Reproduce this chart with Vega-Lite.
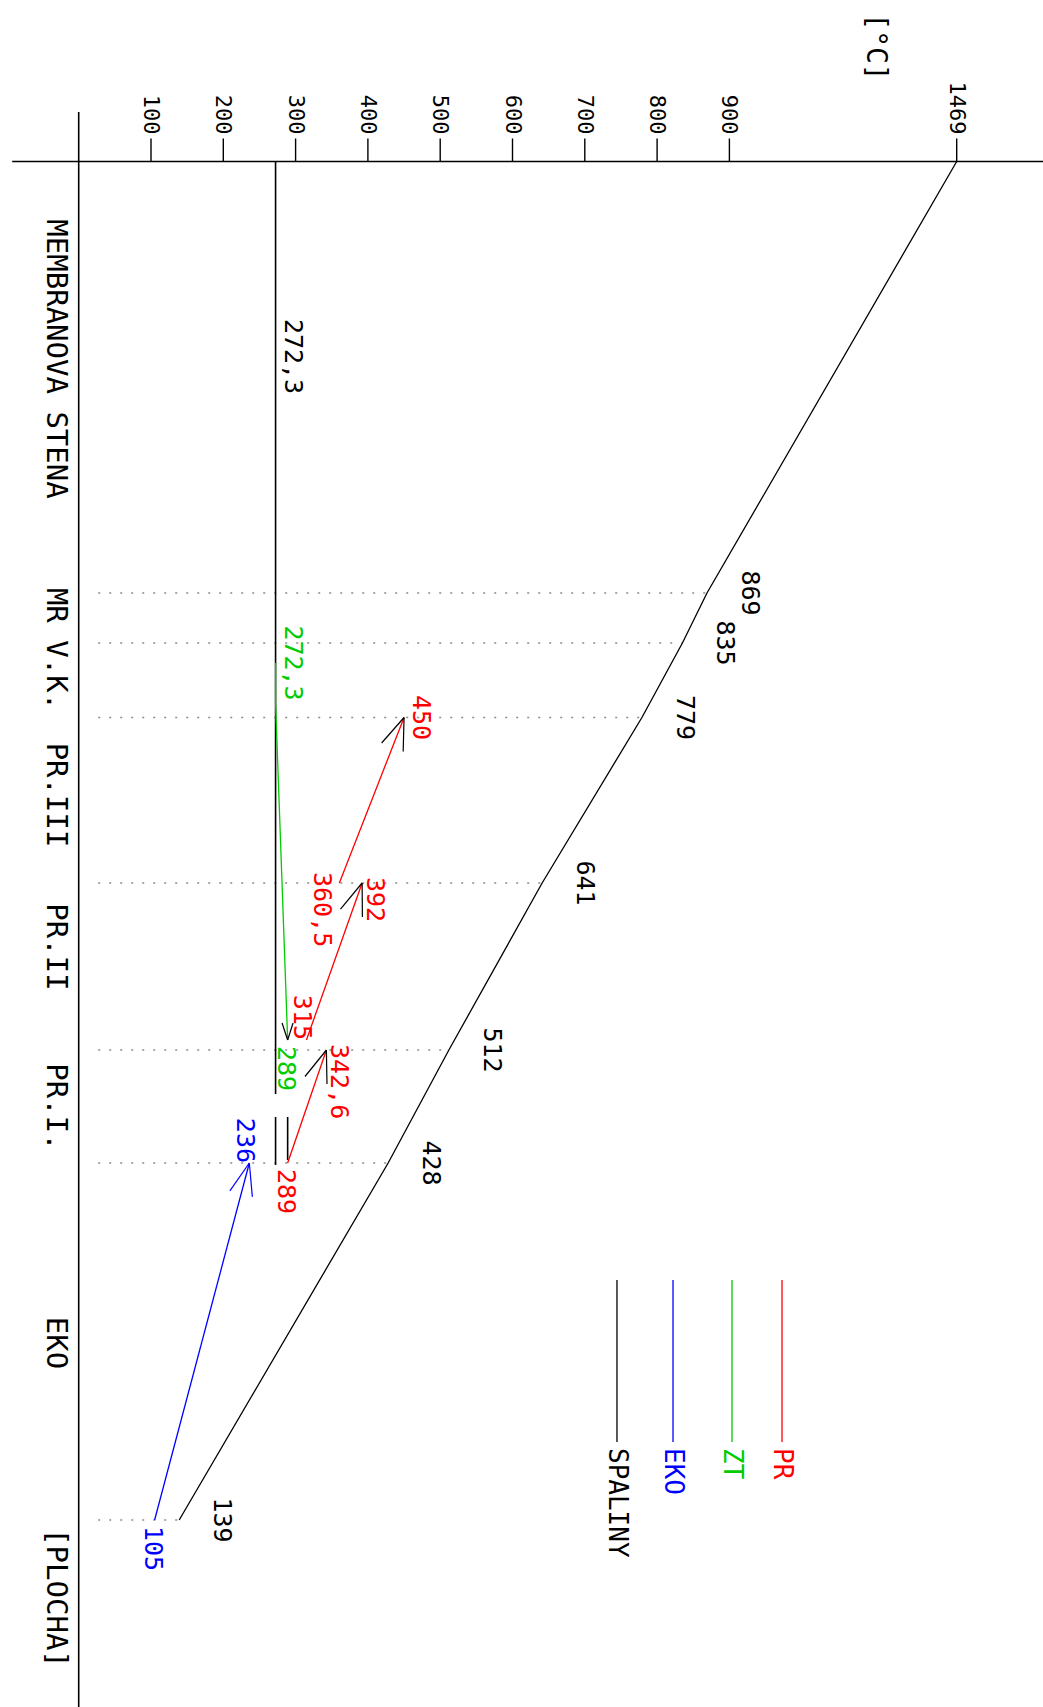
{
  "$schema": "https://vega.github.io/schema/vega-lite/v6.json",
  "width": 1043,
  "height": 1707,
  "padding": 0,
  "autosize": {"type": "none"},
  "background": "white",
  "config": {"view": {"stroke": null}, "font": "DejaVu Sans Mono"},
  "datasets": {
    "lines": [
      {"series": "SPALINY", "seg": "SP", "t": 1469, "u": 0, "label": "", "side": "none"},
      {"series": "SPALINY", "seg": "SP", "t": 869, "u": 431.5, "label": "869", "side": "spal"},
      {"series": "SPALINY", "seg": "SP", "t": 835, "u": 481.5, "label": "835", "side": "spal"},
      {"series": "SPALINY", "seg": "SP", "t": 779, "u": 556, "label": "779", "side": "spal"},
      {"series": "SPALINY", "seg": "SP", "t": 641, "u": 721.5, "label": "641", "side": "spal"},
      {"series": "SPALINY", "seg": "SP", "t": 512, "u": 888.5, "label": "512", "side": "spal"},
      {"series": "SPALINY", "seg": "SP", "t": 428, "u": 1001.5, "label": "428", "side": "spal"},
      {"series": "SPALINY", "seg": "SP", "t": 139, "u": 1358.5, "label": "139", "side": "spal"},
      {"series": "ZT", "seg": "ZT", "t": 272.3, "u": 501.5, "label": "272,3", "side": "right"},
      {"series": "ZT", "seg": "ZT", "t": 272.3, "u": 541.5, "label": "", "side": "none"},
      {"series": "ZT", "seg": "ZT", "t": 289, "u": 878.5, "label": "289", "side": "below"},
      {"series": "PR", "seg": "PR.III", "t": 360.5, "u": 721.5, "label": "360,5", "side": "leftbelow"},
      {"series": "PR", "seg": "PR.III", "t": 450, "u": 556, "label": "450", "side": "right"},
      {"series": "PR", "seg": "PR.II", "t": 315, "u": 878.5, "label": "315", "side": "above"},
      {"series": "PR", "seg": "PR.II", "t": 392, "u": 721.5, "label": "392", "side": "rightbelow"},
      {"series": "PR", "seg": "PR.I", "t": 289, "u": 1001.5, "label": "289", "side": "below"},
      {"series": "PR", "seg": "PR.I", "t": 342.6, "u": 888.5, "label": "342,6", "side": "rightbelow"},
      {"series": "EKO", "seg": "EKO", "t": 105, "u": 1358.5, "label": "105", "side": "below"},
      {"series": "EKO", "seg": "EKO", "t": 236, "u": 1001.5, "label": "236", "side": "above"}
    ],
    "sat": [
      {"t": 272.3, "u1": 0, "u2": 932.5},
      {"t": 272.3, "u1": 955.5, "u2": 1003.5},
      {"t": 289, "u1": 955.5, "u2": 998.5}
    ],
    "notes": [
      {"t": 272.3, "u": 195, "label": "272,3"}
    ],
    "barbs": [
      {"arrow": "PR.III", "t1": 450, "u1": 556, "t2": 419, "u2": 581.5},
      {"arrow": "PR.III", "t1": 450, "u1": 556, "t2": 448.8, "u2": 590},
      {"arrow": "PR.II", "t1": 392, "u1": 721.5, "t2": 362.1, "u2": 747.7},
      {"arrow": "PR.II", "t1": 392, "u1": 721.5, "t2": 392.4, "u2": 755.5},
      {"arrow": "PR.I", "t1": 342.6, "u1": 888.5, "t2": 313, "u2": 915},
      {"arrow": "PR.I", "t1": 342.6, "u1": 888.5, "t2": 343.4, "u2": 922.5},
      {"arrow": "ZT", "t1": 289, "u1": 878.5, "t2": 281.3, "u2": 861.5},
      {"arrow": "ZT", "t1": 289, "u1": 878.5, "t2": 296.5, "u2": 861.5},
      {"arrow": "EKO", "t1": 236, "u1": 1001.5, "t2": 209.1, "u2": 1029.4},
      {"arrow": "EKO", "t1": 236, "u1": 1001.5, "t2": 240.2, "u2": 1035.4}
    ],
    "axes": [
      {"t1": -92, "t2": 1700, "u1": 0, "u2": 0},
      {"t1": 0, "t2": 0, "u1": -49.5, "u2": 1545.5}
    ],
    "ticks": [
      {"t": 100, "label": "100"},
      {"t": 200, "label": "200"},
      {"t": 300, "label": "300"},
      {"t": 400, "label": "400"},
      {"t": 500, "label": "500"},
      {"t": 600, "label": "600"},
      {"t": 700, "label": "700"},
      {"t": 800, "label": "800"},
      {"t": 900, "label": "900"},
      {"t": 1469, "label": "1469"}
    ],
    "unit": [
      {"t": 1264.5, "u": -114.5, "label": "[°C]"}
    ],
    "categories": [
      {"name": "MEMBRANOVA STENA", "t": 0, "u": 197.5},
      {"name": "MR V.K.", "t": 0, "u": 487.5},
      {"name": "PR.III", "t": 0, "u": 633.5},
      {"name": "PR.II", "t": 0, "u": 785.5},
      {"name": "PR.I.", "t": 0, "u": 945.5},
      {"name": "EKO", "t": 0, "u": 1181.5},
      {"name": "[PLOCHA]", "t": 0, "u": 1436.5}
    ],
    "rows": [
      {"t1": 27, "t2": 869, "u": 431.5},
      {"t1": 27, "t2": 835, "u": 481.5},
      {"t1": 27, "t2": 779, "u": 556},
      {"t1": 27, "t2": 641, "u": 721.5},
      {"t1": 27, "t2": 512, "u": 888.5},
      {"t1": 27, "t2": 428, "u": 1001.5},
      {"t1": 27, "t2": 139, "u": 1358.5}
    ],
    "legend": [
      {"series": "PR", "t": 1031.7, "u1": 1118.5, "u2": 1280.5},
      {"series": "ZT", "t": 906.5, "u1": 1118.5, "u2": 1280.5},
      {"series": "EKO", "t": 822, "u1": 1118.5, "u2": 1280.5},
      {"series": "SPALINY", "t": 744.5, "u1": 1118.5, "u2": 1280.5}
    ]
  },
  "layer": [
    {
      "data": {"name": "rows"},
      "mark": {"type": "rule", "color": "#8c8c8c", "strokeWidth": 1.6, "strokeDash": [2, 9]},
      "encoding": {
        "x": {"field": "t1", "type": "quantitative", "scale": {"domain": [0, 900, 1469], "range": [78.7, 729.4, 956.7], "nice": false, "zero": false}, "axis": null},
        "x2": {"field": "t2"},
        "y": {"field": "u", "type": "quantitative", "scale": {"domain": [0, 1545.5], "range": [161.5, 1707], "nice": false, "zero": false}, "axis": null}
      }
    },
    {
      "data": {"name": "axes"},
      "mark": {"type": "rule", "color": "#000000", "strokeWidth": 1.6},
      "encoding": {
        "x": {"field": "t1", "type": "quantitative", "scale": {"domain": [0, 900, 1469], "range": [78.7, 729.4, 956.7], "nice": false, "zero": false}, "axis": null},
        "x2": {"field": "t2"},
        "y": {"field": "u1", "type": "quantitative", "scale": {"domain": [0, 1545.5], "range": [161.5, 1707], "nice": false, "zero": false}, "axis": null},
        "y2": {"field": "u2"}
      }
    },
    {
      "data": {"name": "ticks"},
      "mark": {"type": "rule", "color": "#000000", "strokeWidth": 1.4},
      "encoding": {
        "x": {"field": "t", "type": "quantitative", "scale": {"domain": [0, 900, 1469], "range": [78.7, 729.4, 956.7], "nice": false, "zero": false}, "axis": null},
        "y": {"datum": 0, "type": "quantitative", "scale": {"domain": [0, 1545.5], "range": [161.5, 1707], "nice": false, "zero": false}, "axis": null},
        "y2": {"datum": -23}
      }
    },
    {
      "data": {"name": "ticks"},
      "mark": {"type": "text", "angle": 90, "align": "right", "baseline": "middle", "dx": -27, "font": "DejaVu Sans Mono", "fontSize": 22, "color": "#000000"},
      "encoding": {
        "x": {"field": "t", "type": "quantitative", "scale": {"domain": [0, 900, 1469], "range": [78.7, 729.4, 956.7], "nice": false, "zero": false}, "axis": null},
        "y": {"datum": 0, "type": "quantitative", "scale": {"domain": [0, 1545.5], "range": [161.5, 1707], "nice": false, "zero": false}, "axis": null},
        "text": {"field": "label", "type": "nominal"}
      }
    },
    {
      "data": {"name": "unit"},
      "mark": {"type": "text", "angle": 90, "align": "center", "baseline": "middle", "font": "DejaVu Sans Mono", "fontSize": 28, "color": "#000000"},
      "encoding": {
        "x": {"field": "t", "type": "quantitative", "scale": {"domain": [0, 900, 1469], "range": [78.7, 729.4, 956.7], "nice": false, "zero": false}, "axis": null},
        "y": {"field": "u", "type": "quantitative", "scale": {"domain": [0, 1545.5], "range": [161.5, 1707], "nice": false, "zero": false}, "axis": null},
        "text": {"field": "label", "type": "nominal"}
      }
    },
    {
      "data": {"name": "sat"},
      "mark": {"type": "rule", "color": "#000000", "strokeWidth": 1.6},
      "encoding": {
        "x": {"field": "t", "type": "quantitative", "scale": {"domain": [0, 900, 1469], "range": [78.7, 729.4, 956.7], "nice": false, "zero": false}, "axis": null},
        "y": {"field": "u1", "type": "quantitative", "scale": {"domain": [0, 1545.5], "range": [161.5, 1707], "nice": false, "zero": false}, "axis": null},
        "y2": {"field": "u2"}
      }
    },
    {
      "data": {"name": "lines"},
      "mark": {"type": "line", "strokeWidth": 1.3},
      "encoding": {
        "x": {"field": "t", "type": "quantitative", "scale": {"domain": [0, 900, 1469], "range": [78.7, 729.4, 956.7], "nice": false, "zero": false}, "axis": null},
        "y": {"field": "u", "type": "quantitative", "scale": {"domain": [0, 1545.5], "range": [161.5, 1707], "nice": false, "zero": false}, "axis": null},
        "detail": {"field": "seg", "type": "nominal"},
        "order": {"field": "u", "type": "quantitative"},
        "color": {"field": "series", "type": "nominal", "scale": {"domain": ["PR", "ZT", "EKO", "SPALINY"], "range": ["#ff0000", "#00cc00", "#0000ff", "#000000"]}, "legend": null}
      }
    },
    {
      "data": {"name": "barbs"},
      "transform": [{"filter": "datum.arrow != 'EKO'"}],
      "mark": {"type": "rule", "color": "#000000", "strokeWidth": 1.2},
      "encoding": {
        "x": {"field": "t1", "type": "quantitative", "scale": {"domain": [0, 900, 1469], "range": [78.7, 729.4, 956.7], "nice": false, "zero": false}, "axis": null},
        "x2": {"field": "t2"},
        "y": {"field": "u1", "type": "quantitative", "scale": {"domain": [0, 1545.5], "range": [161.5, 1707], "nice": false, "zero": false}, "axis": null},
        "y2": {"field": "u2"}
      }
    },
    {
      "data": {"name": "barbs"},
      "transform": [{"filter": "datum.arrow == 'EKO'"}],
      "mark": {"type": "rule", "color": "#0000ff", "strokeWidth": 1.2},
      "encoding": {
        "x": {"field": "t1", "type": "quantitative", "scale": {"domain": [0, 900, 1469], "range": [78.7, 729.4, 956.7], "nice": false, "zero": false}, "axis": null},
        "x2": {"field": "t2"},
        "y": {"field": "u1", "type": "quantitative", "scale": {"domain": [0, 1545.5], "range": [161.5, 1707], "nice": false, "zero": false}, "axis": null},
        "y2": {"field": "u2"}
      }
    },
    {
      "data": {"name": "lines"},
      "transform": [{"filter": "datum.side == 'spal'"}],
      "mark": {"type": "text", "angle": 90, "align": "center", "baseline": "middle", "dy": -43, "font": "DejaVu Sans Mono", "fontSize": 25, "color": "#000000"},
      "encoding": {
        "x": {"field": "t", "type": "quantitative", "scale": {"domain": [0, 900, 1469], "range": [78.7, 729.4, 956.7], "nice": false, "zero": false}, "axis": null},
        "y": {"field": "u", "type": "quantitative", "scale": {"domain": [0, 1545.5], "range": [161.5, 1707], "nice": false, "zero": false}, "axis": null},
        "text": {"field": "label", "type": "nominal"}
      }
    },
    {
      "data": {"name": "lines"},
      "transform": [{"filter": "datum.side == 'right'"}],
      "mark": {"type": "text", "angle": 90, "align": "center", "baseline": "middle", "dy": -17, "font": "DejaVu Sans Mono", "fontSize": 25},
      "encoding": {
        "x": {"field": "t", "type": "quantitative", "scale": {"domain": [0, 900, 1469], "range": [78.7, 729.4, 956.7], "nice": false, "zero": false}, "axis": null},
        "y": {"field": "u", "type": "quantitative", "scale": {"domain": [0, 1545.5], "range": [161.5, 1707], "nice": false, "zero": false}, "axis": null},
        "text": {"field": "label", "type": "nominal"},
        "color": {"field": "series", "type": "nominal", "scale": {"domain": ["PR", "ZT", "EKO", "SPALINY"], "range": ["#ff0000", "#00cc00", "#0000ff", "#000000"]}, "legend": null}
      }
    },
    {
      "data": {"name": "lines"},
      "transform": [{"filter": "datum.side == 'rightbelow'"}],
      "mark": {"type": "text", "angle": 90, "align": "left", "baseline": "middle", "dx": -6, "dy": -13, "font": "DejaVu Sans Mono", "fontSize": 25},
      "encoding": {
        "x": {"field": "t", "type": "quantitative", "scale": {"domain": [0, 900, 1469], "range": [78.7, 729.4, 956.7], "nice": false, "zero": false}, "axis": null},
        "y": {"field": "u", "type": "quantitative", "scale": {"domain": [0, 1545.5], "range": [161.5, 1707], "nice": false, "zero": false}, "axis": null},
        "text": {"field": "label", "type": "nominal"},
        "color": {"field": "series", "type": "nominal", "scale": {"domain": ["PR", "ZT", "EKO", "SPALINY"], "range": ["#ff0000", "#00cc00", "#0000ff", "#000000"]}, "legend": null}
      }
    },
    {
      "data": {"name": "lines"},
      "transform": [{"filter": "datum.side == 'leftbelow'"}],
      "mark": {"type": "text", "angle": 90, "align": "left", "baseline": "middle", "dx": -11, "dy": 17, "font": "DejaVu Sans Mono", "fontSize": 25},
      "encoding": {
        "x": {"field": "t", "type": "quantitative", "scale": {"domain": [0, 900, 1469], "range": [78.7, 729.4, 956.7], "nice": false, "zero": false}, "axis": null},
        "y": {"field": "u", "type": "quantitative", "scale": {"domain": [0, 1545.5], "range": [161.5, 1707], "nice": false, "zero": false}, "axis": null},
        "text": {"field": "label", "type": "nominal"},
        "color": {"field": "series", "type": "nominal", "scale": {"domain": ["PR", "ZT", "EKO", "SPALINY"], "range": ["#ff0000", "#00cc00", "#0000ff", "#000000"]}, "legend": null}
      }
    },
    {
      "data": {"name": "lines"},
      "transform": [{"filter": "datum.side == 'below'"}],
      "mark": {"type": "text", "angle": 90, "align": "left", "baseline": "middle", "dx": 6, "dy": 2, "font": "DejaVu Sans Mono", "fontSize": 25},
      "encoding": {
        "x": {"field": "t", "type": "quantitative", "scale": {"domain": [0, 900, 1469], "range": [78.7, 729.4, 956.7], "nice": false, "zero": false}, "axis": null},
        "y": {"field": "u", "type": "quantitative", "scale": {"domain": [0, 1545.5], "range": [161.5, 1707], "nice": false, "zero": false}, "axis": null},
        "text": {"field": "label", "type": "nominal"},
        "color": {"field": "series", "type": "nominal", "scale": {"domain": ["PR", "ZT", "EKO", "SPALINY"], "range": ["#ff0000", "#00cc00", "#0000ff", "#000000"]}, "legend": null}
      }
    },
    {
      "data": {"name": "lines"},
      "transform": [{"filter": "datum.side == 'above'"}],
      "mark": {"type": "text", "angle": 90, "align": "right", "baseline": "middle", "dx": 0, "dy": 4, "font": "DejaVu Sans Mono", "fontSize": 25},
      "encoding": {
        "x": {"field": "t", "type": "quantitative", "scale": {"domain": [0, 900, 1469], "range": [78.7, 729.4, 956.7], "nice": false, "zero": false}, "axis": null},
        "y": {"field": "u", "type": "quantitative", "scale": {"domain": [0, 1545.5], "range": [161.5, 1707], "nice": false, "zero": false}, "axis": null},
        "text": {"field": "label", "type": "nominal"},
        "color": {"field": "series", "type": "nominal", "scale": {"domain": ["PR", "ZT", "EKO", "SPALINY"], "range": ["#ff0000", "#00cc00", "#0000ff", "#000000"]}, "legend": null}
      }
    },
    {
      "data": {"name": "notes"},
      "mark": {"type": "text", "angle": 90, "align": "center", "baseline": "middle", "dy": -17, "font": "DejaVu Sans Mono", "fontSize": 25, "color": "#000000"},
      "encoding": {
        "x": {"field": "t", "type": "quantitative", "scale": {"domain": [0, 900, 1469], "range": [78.7, 729.4, 956.7], "nice": false, "zero": false}, "axis": null},
        "y": {"field": "u", "type": "quantitative", "scale": {"domain": [0, 1545.5], "range": [161.5, 1707], "nice": false, "zero": false}, "axis": null},
        "text": {"field": "label", "type": "nominal"}
      }
    },
    {
      "data": {"name": "categories"},
      "mark": {"type": "text", "angle": 90, "align": "center", "baseline": "middle", "dy": 23, "font": "DejaVu Sans Mono", "fontSize": 29, "color": "#000000"},
      "encoding": {
        "x": {"field": "t", "type": "quantitative", "scale": {"domain": [0, 900, 1469], "range": [78.7, 729.4, 956.7], "nice": false, "zero": false}, "axis": null},
        "y": {"field": "u", "type": "quantitative", "scale": {"domain": [0, 1545.5], "range": [161.5, 1707], "nice": false, "zero": false}, "axis": null},
        "text": {"field": "name", "type": "nominal"}
      }
    },
    {
      "data": {"name": "legend"},
      "mark": {"type": "rule", "strokeWidth": 1.3},
      "encoding": {
        "x": {"field": "t", "type": "quantitative", "scale": {"domain": [0, 900, 1469], "range": [78.7, 729.4, 956.7], "nice": false, "zero": false}, "axis": null},
        "y": {"field": "u1", "type": "quantitative", "scale": {"domain": [0, 1545.5], "range": [161.5, 1707], "nice": false, "zero": false}, "axis": null},
        "y2": {"field": "u2"},
        "color": {"field": "series", "type": "nominal", "scale": {"domain": ["PR", "ZT", "EKO", "SPALINY"], "range": ["#ff0000", "#00cc00", "#0000ff", "#000000"]}, "legend": null}
      }
    },
    {
      "data": {"name": "legend"},
      "mark": {"type": "text", "angle": 90, "align": "left", "baseline": "middle", "dx": 6, "font": "DejaVu Sans Mono", "fontSize": 26},
      "encoding": {
        "x": {"field": "t", "type": "quantitative", "scale": {"domain": [0, 900, 1469], "range": [78.7, 729.4, 956.7], "nice": false, "zero": false}, "axis": null},
        "y": {"field": "u2", "type": "quantitative", "scale": {"domain": [0, 1545.5], "range": [161.5, 1707], "nice": false, "zero": false}, "axis": null},
        "text": {"field": "series", "type": "nominal"},
        "color": {"field": "series", "type": "nominal", "scale": {"domain": ["PR", "ZT", "EKO", "SPALINY"], "range": ["#ff0000", "#00cc00", "#0000ff", "#000000"]}, "legend": null}
      }
    }
  ]
}
